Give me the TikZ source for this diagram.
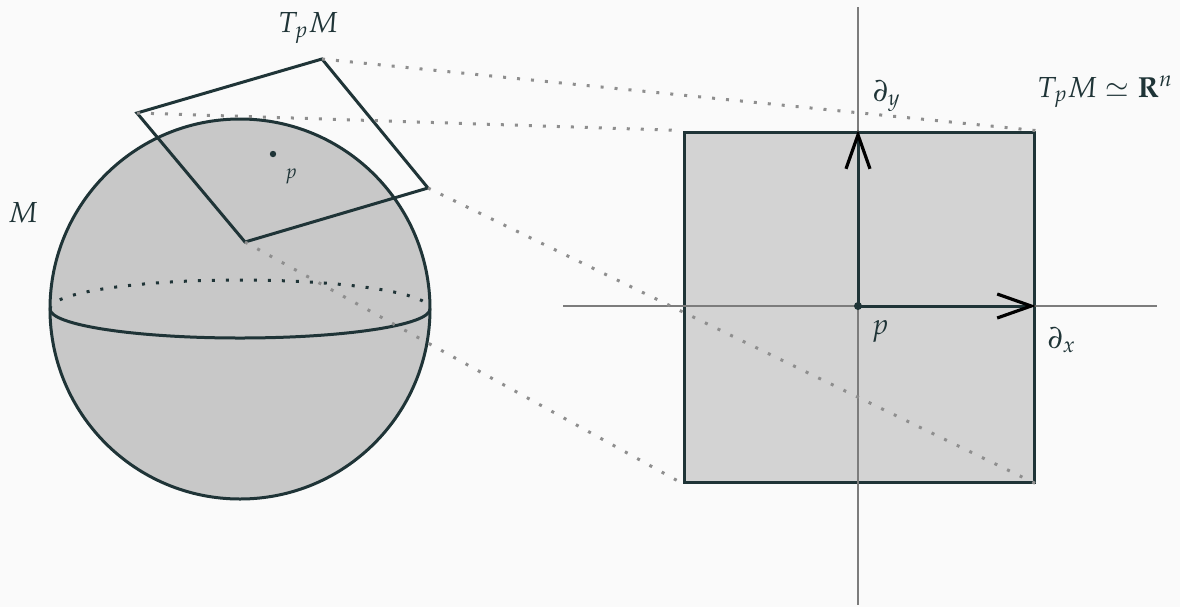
\documentclass[tikz,border=0pt]{standalone}
\usepackage{amsmath,amssymb}
\usepackage{mathpazo}
\usepackage{tikz}
\usetikzlibrary{arrows.meta,positioning}
\definecolor{ink}{HTML}{1F3437}
\definecolor{spherefill}{HTML}{C8C8C8}
\definecolor{squarefill}{HTML}{D3D3D3}
\definecolor{guide}{HTML}{8E8E8E}
\definecolor{axisgray}{HTML}{7C7C7C}
\definecolor{paper}{HTML}{FAFAFA}

\begin{document}
\begin{tikzpicture}[x=0.5pt, y=-0.5pt,
    edge/.style={line width=1.5pt, draw=ink},
    proj/.style={line width=1.5pt, draw=guide, dash pattern=on 1.5pt off 5.5pt},
    backline/.style={line width=1.5pt, draw=ink, dash pattern=on 1.5pt off 5.5pt},
    axis/.style={line width=1.3pt, draw=axisgray},
    vec/.style={line width=1.5pt, draw=ink, -{Straight Barb[length=17pt, width=12pt, line width=1.6pt, color=black]}},
    lbl/.style={font=\fontsize{14.5}{16}\selectfont, text=ink, inner sep=0pt},
    smalllbl/.style={font=\fontsize{10}{12}\selectfont, text=ink, inner sep=0pt}]
    \fill[paper] (0,0) rectangle (1180,607);
    \useasboundingbox (0,0) rectangle (1180,607);

    % the manifold
    \draw[edge, fill=spherefill] (240,309) circle[radius=95pt];
    \draw[backline] (50,309) arc[start angle=180, end angle=0, x radius=95pt, y radius=14.5pt];
    \draw[edge] (50,309) arc[start angle=180, end angle=360, x radius=95pt, y radius=14.5pt];
    \node[lbl] (M) at (23,213) {$M$};

    % tangent plane at p
    \coordinate (A) at (137,113);
    \coordinate (B) at (322,59);
    \coordinate (C) at (428,188);
    \coordinate (D) at (245,242);
    \draw[edge] (A) -- (B) -- (C) -- (D) -- cycle;
    \fill[ink] (273,154) circle (1.6pt) coordinate (p);
    \node[smalllbl] (plbl) at (291,176) {$p$};
    \node[lbl] (TpM) at (308,28) {$T_pM$};

    % the model space
    \node[edge, fill=squarefill, minimum width=175pt, minimum height=175pt, inner sep=0pt]
        (sq) at (859,307) {};
    \coordinate (xl) at (563,306);
    \coordinate (xr) at (1157,306);
    \coordinate (yt) at (858,7);
    \coordinate (yb) at (858,605);
    \draw[axis] (xl) -- (xr);
    \draw[axis] (yt) -- (yb);
    \coordinate (o) at (858,306);
    \coordinate (ex) at (1036,306);
    \coordinate (ey) at (858,130);
    \draw[vec] (o) -- (ex);
    \draw[vec] (o) -- (ey);
    \fill[ink] (o) circle (2pt);
    \node[lbl] (po) at (880,331) {$p$};
    \node[lbl] (dx) at (1062,340) {$\partial_x$};
    \node[lbl] (dy) at (887,96) {$\partial_y$};
    \node[lbl] (Rn) at (1105,92) {$T_pM \simeq \mathbf{R}^n$};

    % projection guides
    \draw[proj] (A) -- (sq.north west);
    \draw[proj] (B) -- (sq.north east);
    \draw[proj] (C) -- (sq.south east);
    \draw[proj] (D) -- (sq.south west);
\end{tikzpicture}
\end{document}
